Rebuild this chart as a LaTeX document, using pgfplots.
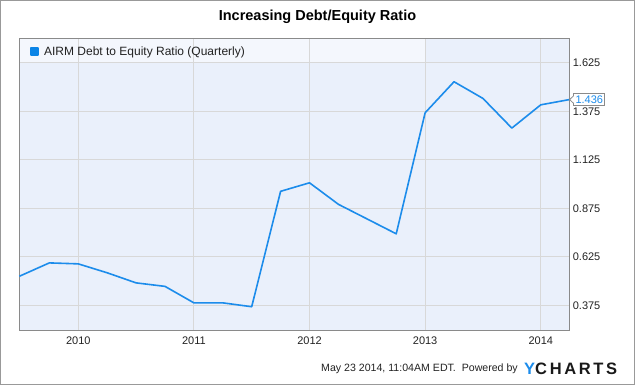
\documentclass[border=0pt]{standalone}
\usepackage{fontspec}
\setmainfont{Liberation Sans}
\newfontfamily\logofont[LetterSpace=16]{Liberation Sans}
\usepackage{pgfplots}
\pgfplotsset{compat=1.18}
\definecolor{bgblue}{HTML}{EAF0FB}
\definecolor{bandblue}{HTML}{F4F7FD}
\definecolor{gridgray}{HTML}{D8D8D8}
\definecolor{framegray}{HTML}{8A8A8A}
\definecolor{lineblue}{HTML}{1C8CEB}
\definecolor{legblue}{HTML}{0A84E6}
\definecolor{outergray}{HTML}{999999}
\definecolor{logoblue}{HTML}{1C8CEB}
\definecolor{txt}{HTML}{222222}
\pgfplotstableread{
x y
2009.49 0.525
2009.75 0.594
2010.0 0.589
2010.25 0.543
2010.5 0.491
2010.75 0.473
2011.0 0.388
2011.25 0.388
2011.5 0.368
2011.75 0.963
2012.0 1.007
2012.25 0.896
2012.5 0.820
2012.75 0.744
2013.0 1.368
2013.25 1.528
2013.5 1.442
2013.75 1.289
2014.0 1.409
2014.247 1.436
}\airm
\begin{document}
\begin{tikzpicture}
\node[font=\fontsize{14.5bp}{17bp}\selectfont\bfseries, text=black] at (317.5bp,-17bp) {Increasing Debt/Equity Ratio};
\begin{axis}[
  set layers,
  at={(19.3bp,-330bp)}, anchor=south west,
  width=550bp, height=291.7bp, scale only axis,
  xmin=2009.49, xmax=2014.247,
  ymin=0.248, ymax=1.752,
  xtick={2010,2011,2012,2013,2014},
  xticklabels={2010,2011,2012,2013,2014},
  ytick={0.375,0.625,0.875,1.125,1.375,1.625},
  yticklabels={0.375,0.625,0.875,1.125,1.375,1.625},
  yticklabel pos=right,
  major tick length=0pt,
  grid=major,
  major grid style={gridgray, line width=1bp},
  axis line style={framegray, line width=1bp},
  axis background/.style={fill=bgblue},
  tick label style={font=\fontsize{11bp}{13bp}\selectfont, text=txt},
  xticklabel style={yshift=-3.3bp},
  /pgf/number format/assume math mode=true,
  clip=false,
  legend style={at={(0.0195,0.9547)}, anchor=west, draw=none, fill=none,
    inner sep=0pt, outer sep=0pt, font=\fontsize{12bp}{14bp}\selectfont, text=txt,
    /tikz/every odd column/.append style={column sep=3.5bp}},
  legend image code/.code={\fill[legblue] (0bp,-3.5bp) rectangle (7bp,3.5bp);},
]
\addplot[fill=bandblue, draw=none, on layer=axis background, forget plot] coordinates {(2009.49,1.6235) (2013,1.6235) (2013,1.752) (2009.49,1.752)} -- cycle;
\addplot[lineblue, line width=1.6bp, line join=round] table[x=x,y=y] {\airm};
\addlegendentry{AIRM Debt to Equity Ratio (Quarterly)}
\coordinate (endpt) at (axis cs:2014.247,1.436);
\end{axis}
\node[draw=framegray, fill=white, text=lineblue, line width=0.8bp, inner sep=1.8bp, anchor=west,
  font=\fontsize{11bp}{13bp}\selectfont] (lab) at ([xshift=4bp]endpt) {1.436};
\fill[white] ([xshift=4.6bp,yshift=3.5bp]endpt) -- ([xshift=0.3bp]endpt) -- ([xshift=4.6bp,yshift=-3.5bp]endpt) -- cycle;
\draw[framegray, line width=0.8bp] ([xshift=4bp,yshift=3.5bp]endpt) -- ([xshift=0.3bp]endpt) -- ([xshift=4bp,yshift=-3.5bp]endpt);
\node[anchor=east, font=\fontsize{10.6bp}{13bp}\selectfont, text=txt, inner sep=0pt] at (518bp,-369bp) {May 23 2014, 11:04AM EDT.\ \ Powered by};
\node[anchor=west, font=\logofont\fontsize{16.5bp}{18bp}\selectfont\bfseries, inner sep=0pt] at (524bp,-369bp) {\textcolor{logoblue}{Y}\textcolor{black!90}{CHARTS}};
\draw[outergray, line width=1bp] (0.5bp,-0.5bp) rectangle (634.5bp,-384.5bp);
\end{tikzpicture}
\end{document}
